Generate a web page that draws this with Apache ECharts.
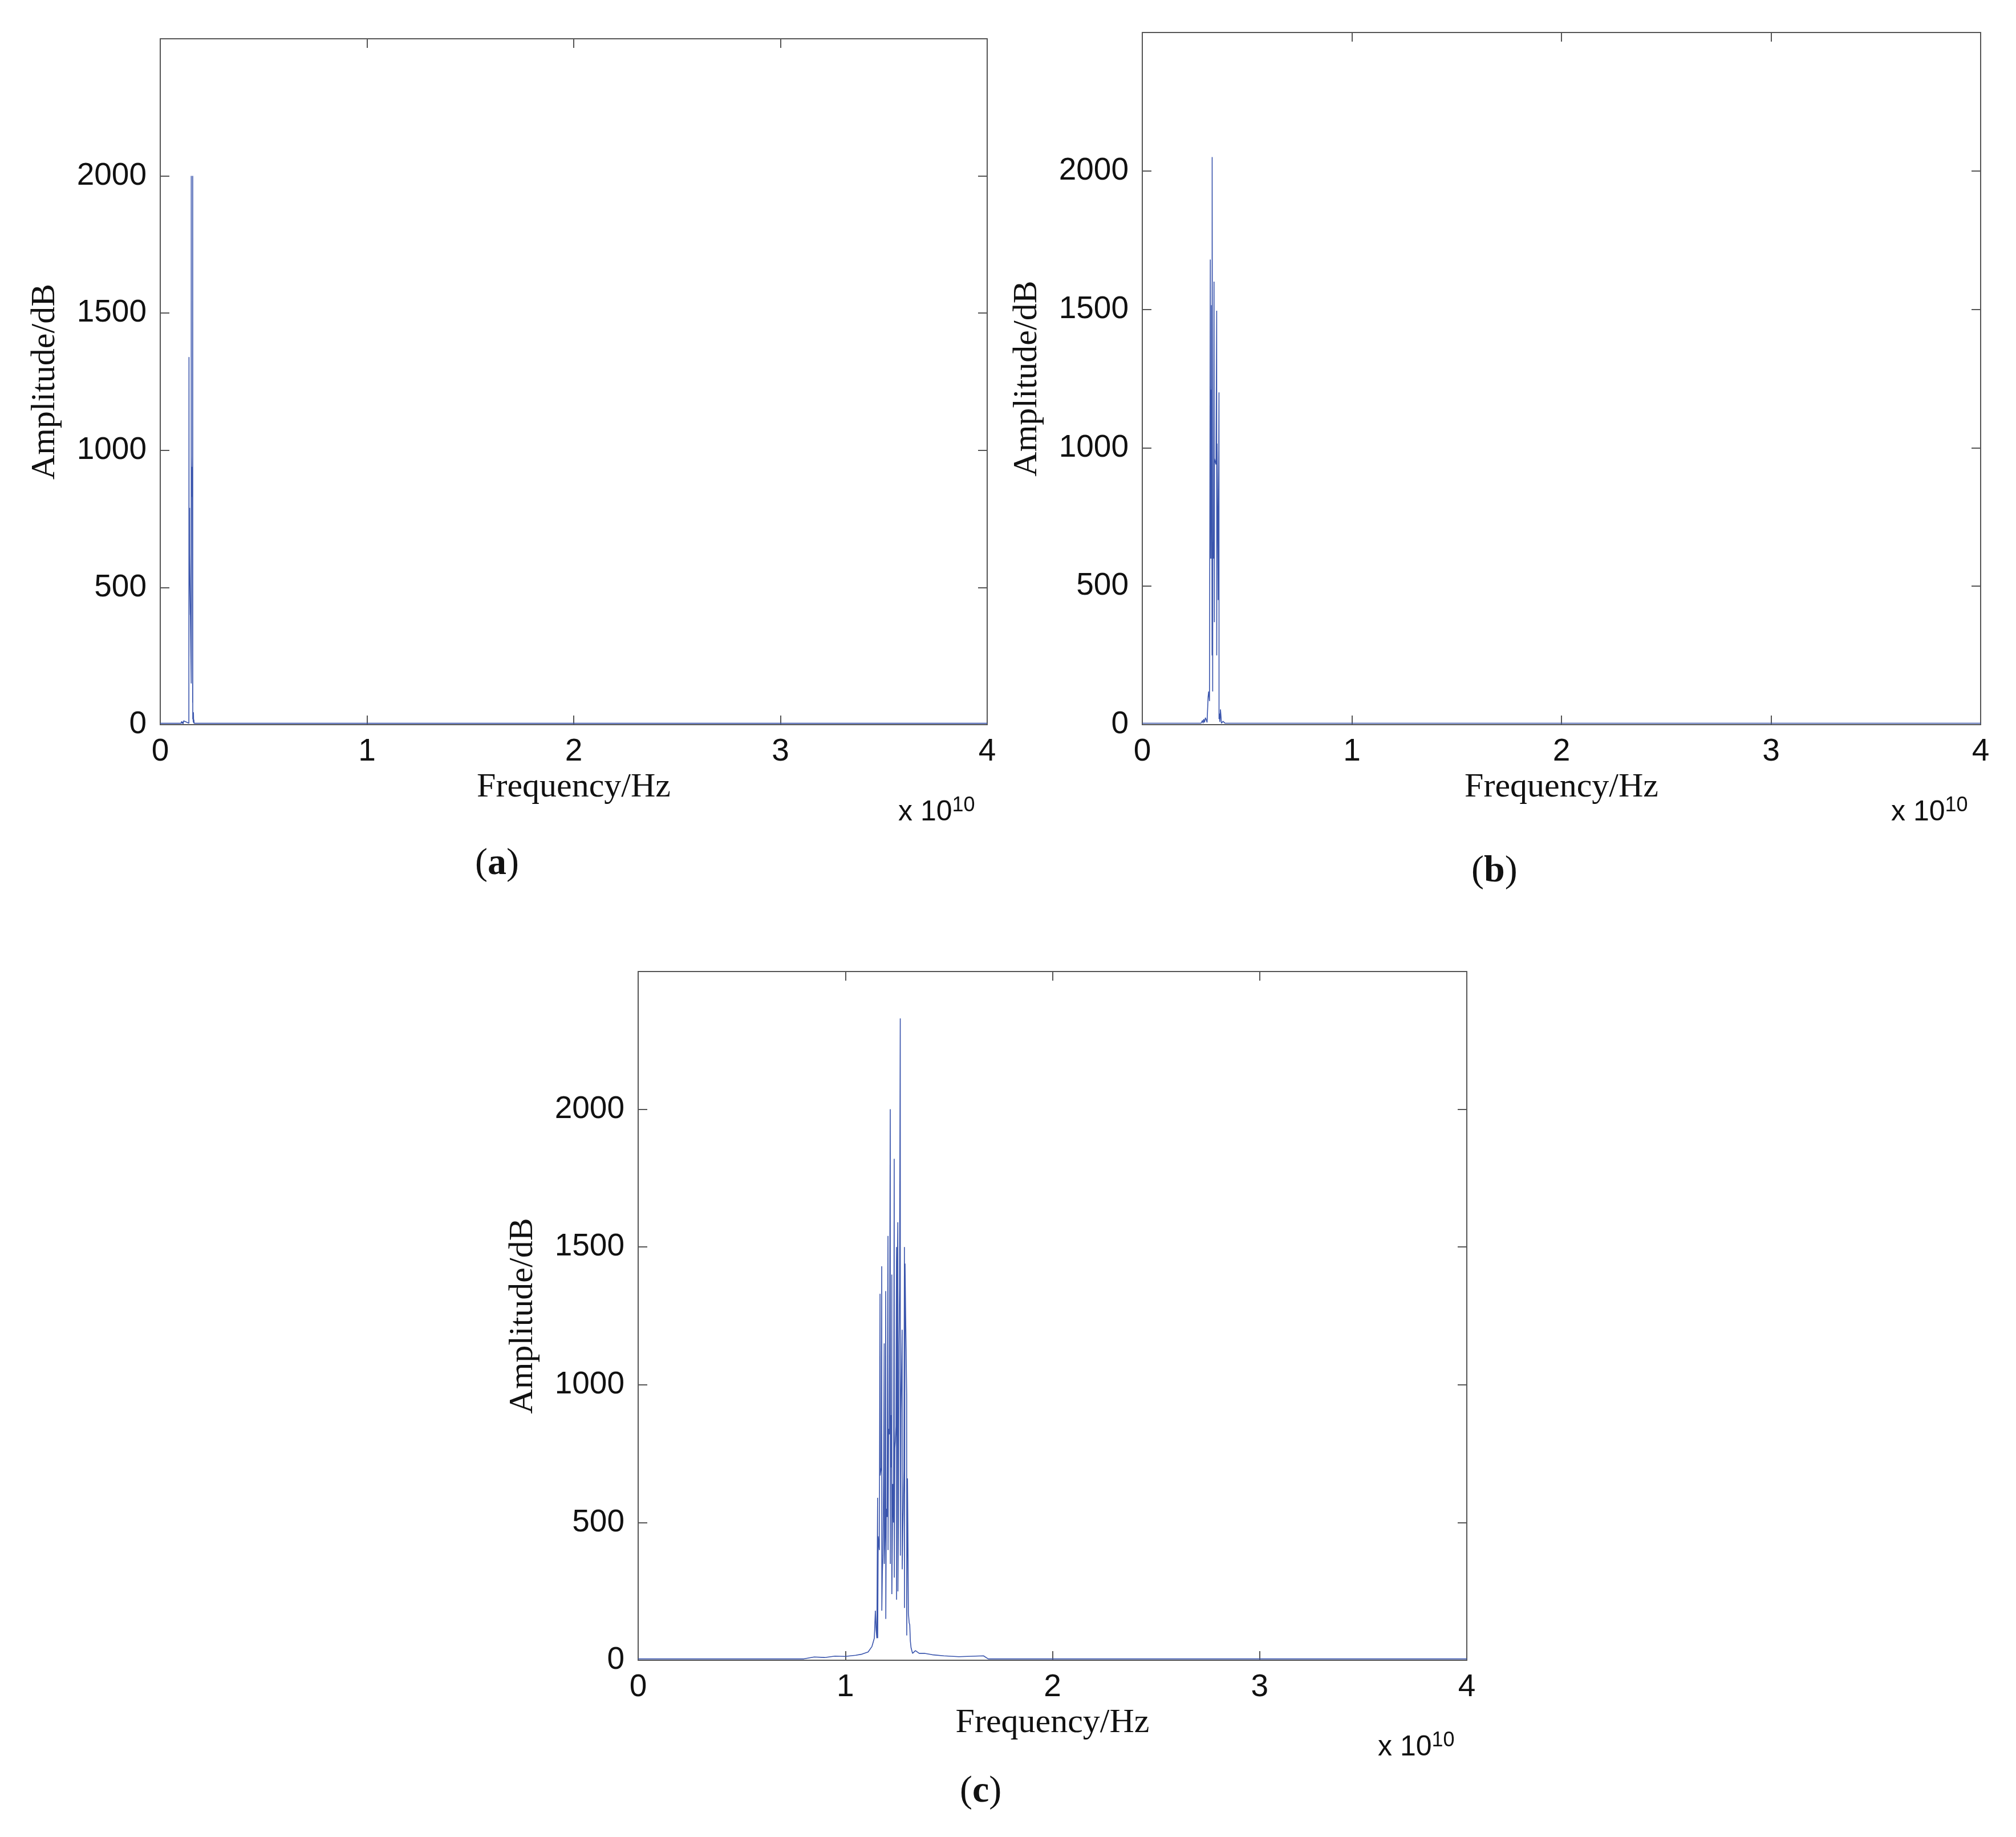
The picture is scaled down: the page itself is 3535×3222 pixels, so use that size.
<!DOCTYPE html>
<html>
<head>
<meta charset="utf-8">
<script src="https://cdn.jsdelivr.net/npm/echarts@6/dist/echarts.min.js"></script>
<style>
  html, body { margin: 0; padding: 0; background: #fff; }
  #chart { width: 3535px; height: 3222px; }
</style>
</head>
<body>
<div id="chart"></div>
<script>
// frequency in units of 1e10 Hz, amplitude in dB (as labelled)
const freqA = [0, 0.100, 0.104, 0.106, 0.109, 0.111, 0.113, 0.1385, 0.1390, 0.1392, 0.1400, 0.1410, 0.1415, 0.1420, 0.1425, 0.1497, 0.1500, 0.1503, 0.1510, 0.1520, 0.1530, 0.1545, 0.1568, 0.1570, 0.1573, 0.1585, 0.1595, 0.1605, 0.1615, 0.1625, 0.1640, 0.1700, 4];
const ampA  = [5, 5, 12, 4, 10, 3, 14, 5, 1340, 400, 560, 530, 670, 790, 620, 150, 2000, 980, 930, 880, 830, 940, 80, 2000, 20, 35, 10, 45, 6, 18, 5, 5, 5];

const freqB = [0, 0.280, 0.287, 0.290, 0.293, 0.297, 0.301, 0.305, 0.309, 0.314, 0.3168, 0.3205, 0.3245, 0.3250, 0.3253, 0.3268, 0.3300, 0.3304, 0.3330, 0.3333, 0.3358, 0.3361, 0.3395, 0.3422, 0.3439, 0.3441, 0.3477, 0.3513, 0.3549, 0.3551, 0.3568, 0.3595, 0.3622, 0.3659, 0.3661, 0.3676, 0.3703, 0.3730, 0.3776, 0.3850, 0.3950, 4];
const ampB  = [5, 5, 15, 5, 20, 8, 25, 18, 8, 100, 120, 85, 1680, 600, 900, 1210, 600, 1515, 250, 2050, 120, 660, 600, 1600, 370, 960, 960, 940, 1495, 250, 1015, 785, 450, 1200, 20, 40, 10, 55, 5, 12, 5, 5];

const freqC = [0, 0.80, 0.85, 0.90, 0.95, 1.00, 1.05, 1.08, 1.11, 1.1286, 1.140, 1.145, 1.1487, 1.1523, 1.1558, 1.1562, 1.1587, 1.1642, 1.1676, 1.1680, 1.1733, 1.1758, 1.1762, 1.1788, 1.1815, 1.1852, 1.1877, 1.1881, 1.1925, 1.1950, 1.1954, 1.1979, 1.2016, 1.2059, 1.2063, 1.2089, 1.2125, 1.2169, 1.2173, 1.2198, 1.2226, 1.2242, 1.2246, 1.2289, 1.2326, 1.2360, 1.2364, 1.2390, 1.2417, 1.2444, 1.2470, 1.2474, 1.2508, 1.2534, 1.2538, 1.2563, 1.2590, 1.2618, 1.2652, 1.2656, 1.2682, 1.2709, 1.2743, 1.2747, 1.2773, 1.2800, 1.2828, 1.2853, 1.2857, 1.2882, 1.2910, 1.2937, 1.2962, 1.2966, 1.3001, 1.3019, 1.3046, 1.3083, 1.3110, 1.3138, 1.3174, 1.3247, 1.3384, 1.3566, 1.3840, 1.4200, 1.4750, 1.5480, 1.6670, 1.69, 4];
const ampC  = [5, 5, 12, 10, 15, 14, 18, 22, 30, 50, 80, 180, 110, 80, 590, 80, 450, 400, 1330, 670, 700, 1430, 180, 320, 380, 700, 1150, 350, 500, 1340, 150, 550, 520, 1540, 400, 840, 820, 2000, 350, 890, 700, 1400, 240, 640, 500, 1820, 300, 770, 800, 850, 1500, 220, 1400, 1590, 250, 510, 1140, 1350, 2330, 380, 900, 1030, 1200, 330, 460, 570, 690, 1500, 190, 1440, 1260, 1110, 960, 90, 660, 490, 170, 135, 130, 70, 45, 25, 35, 25, 25, 20, 16, 13, 16, 5, 5];

const yTicks = [0, 500, 1000, 1500, 2000];

const panels = [
    { freq: freqA, amp: ampA, left: 281, top: 68, width: 1450, height: 1203, tag: 'a', tagPos: [877, 1523], expPos: [1665, 1437] },
    { freq: freqB, amp: ampB, left: 2003, top: 57, width: 1470, height: 1214, tag: 'b', tagPos: [2624, 1536], expPos: [3406, 1437] },
    { freq: freqC, amp: ampC, left: 1119, top: 1704, width: 1453, height: 1208, tag: 'c', tagPos: [1727, 3150], expPos: [2506, 3077] }
];

const frame = '#555';
const tickFont = { fontFamily: 'Liberation Sans', fontSize: 55, color: '#111' };
const nameFont = { fontFamily: 'Liberation Serif', fontSize: 60, color: '#111' };

const grid = [], xAxis = [], yAxis = [], series = [], graphic = [];

panels.forEach((p, i) => {
    grid.push({ left: p.left, top: p.top, width: p.width, height: p.height });
    // bottom/left axes with labels
    xAxis.push({
        type: 'value', gridIndex: i, min: 0, max: 4, interval: 1, position: 'bottom',
        name: 'Frequency/Hz', nameLocation: 'middle', nameGap: 80, nameTextStyle: nameFont,
        axisLine: { show: true, onZero: false, lineStyle: { color: frame, width: 2 } },
        axisTick: { inside: true, length: 16, lineStyle: { color: frame, width: 2 } },
        axisLabel: Object.assign({ margin: 20 }, tickFont),
        splitLine: { show: false }
    });
    yAxis.push({
        type: 'value', gridIndex: i, min: 0, max: 2500, interval: 500, position: 'left',
        name: 'Amplitude/dB', nameLocation: 'middle', nameGap: 172, nameTextStyle: nameFont,
        axisLine: { show: true, onZero: false, lineStyle: { color: frame, width: 2 } },
        axisTick: { inside: true, length: 16, lineStyle: { color: frame, width: 2 } },
        axisLabel: Object.assign({ margin: 24, formatter: v => yTicks.includes(v) ? String(v) : '' }, tickFont),
        splitLine: { show: false }
    });
    // top/right mirror axes for the box
    xAxis.push({
        type: 'value', gridIndex: i, min: 0, max: 4, interval: 1, position: 'top',
        axisLine: { show: true, onZero: false, lineStyle: { color: frame, width: 2 } },
        axisTick: { inside: true, length: 16, lineStyle: { color: frame, width: 2 } },
        axisLabel: { show: false }, splitLine: { show: false }
    });
    yAxis.push({
        type: 'value', gridIndex: i, min: 0, max: 2500, interval: 500, position: 'right',
        axisLine: { show: true, onZero: false, lineStyle: { color: frame, width: 2 } },
        axisTick: { inside: true, length: 16, lineStyle: { color: frame, width: 2 } },
        axisLabel: { show: false }, splitLine: { show: false }
    });
    series.push({
        type: 'line', xAxisIndex: 2 * i, yAxisIndex: 2 * i,
        data: p.freq.map((f, k) => [f, p.amp[k]]),
        showSymbol: false, symbol: 'none', animation: false,
        lineStyle: { color: '#3a55ad', width: 1.6 }
    });
    graphic.push({
        type: 'text', left: p.tagPos[0] - 44, top: p.tagPos[1] - 40,
        style: {
            text: '({b|' + p.tag + '})',
            font: '66px "Liberation Serif"', fill: '#111',
            rich: { b: { font: 'bold 66px "Liberation Serif"', fill: '#111' } }
        }
    });
    graphic.push({
        type: 'text', left: p.expPos[0] - 90, top: p.expPos[1] - 42,
        style: {
            text: 'x 10{s|10}',
            font: '50px "Liberation Sans"', fill: '#111',
            rich: { s: { font: '36px "Liberation Sans"', fill: '#111', verticalAlign: 'top', padding: [0, 0, 24, 0] } }
        }
    });
});

const chart = echarts.init(document.getElementById('chart'));
chart.setOption({ animation: false, grid, xAxis, yAxis, series, graphic });
</script>
</body>
</html>
